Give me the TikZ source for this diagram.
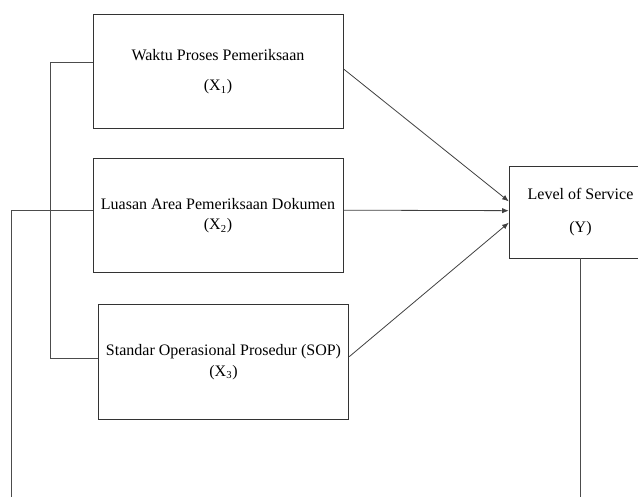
\documentclass[tikz,border=0pt]{standalone}
\usepackage{fontspec}
\setmainfont{Liberation Serif}
\usetikzlibrary{arrows.meta, positioning}

\begin{document}
\begin{tikzpicture}[
    x=0.75pt, y=-0.75pt,
    var/.style={rectangle, draw=black!80, line width=0.6pt, inner sep=0pt,
                minimum width=187.5pt, minimum height=86pt,
                align=center, font=\fontsize{12}{14}\selectfont},
    dep/.style={var, minimum width=107pt, minimum height=69pt},
    link/.style={line width=0.6pt, black!70},
    arr/.style ={-{Latex[length=5pt, width=4pt]}, line width=0.6pt, black!75},
]
  \useasboundingbox (0,0) rectangle (638,497);

  %% ---- independent variables ----
  \node[var] (x1) at (218, 71.5)  {Waktu Proses Pemeriksaan\\[9pt](X\textsubscript{1})};
  \node[var] (x2) at (218, 215.5) {Luasan Area Pemeriksaan Dokumen\\[1.5pt](X\textsubscript{2})};
  \node[var, minimum width=188pt] (x3) at (223.5, 362)
        {Standar Operasional Prosedur (SOP)\\[1.5pt](X\textsubscript{3})};

  %% ---- dependent variable (runs off the right edge) ----
  \node[dep] (y) at (580.5, 212) {Level of Service\\[11pt](Y)};

  %% ---- helper points for the side lines ----
  \coordinate (brk) at (50, 0);
  \coordinate (out) at (11, 0);
  \coordinate (bot) at (0, 497);
  \coordinate (x1in) at ([yshift=7pt]x1.west);
  \coordinate (x2in) at ([yshift=4pt]x2.west);
  \coordinate (x3in) at ([yshift=3pt]x3.west);

  %% ---- bracket joining X1 and X3 ----
  \draw[link] (x1in) -| (x3in -| brk) -- (x3in);

  %% ---- outer line from X2 down to the page bottom ----
  \draw[link] (x2in) -| (out |- bot);

  %% ---- line from Y down to the page bottom ----
  \draw[link] (y.south) -- (y.south |- bot);

  %% ---- arrows into Y ----
  \draw[arr] ([yshift=2pt]x1.east) -- ([yshift=8pt]y.west);
  \draw[arr] ([yshift=4pt]x2.east) -- ([yshift=1pt]y.west);
  \draw[arr] ([yshift=4pt]x3.east) -- ([yshift=-8pt]y.west);

\end{tikzpicture}
\end{document}
